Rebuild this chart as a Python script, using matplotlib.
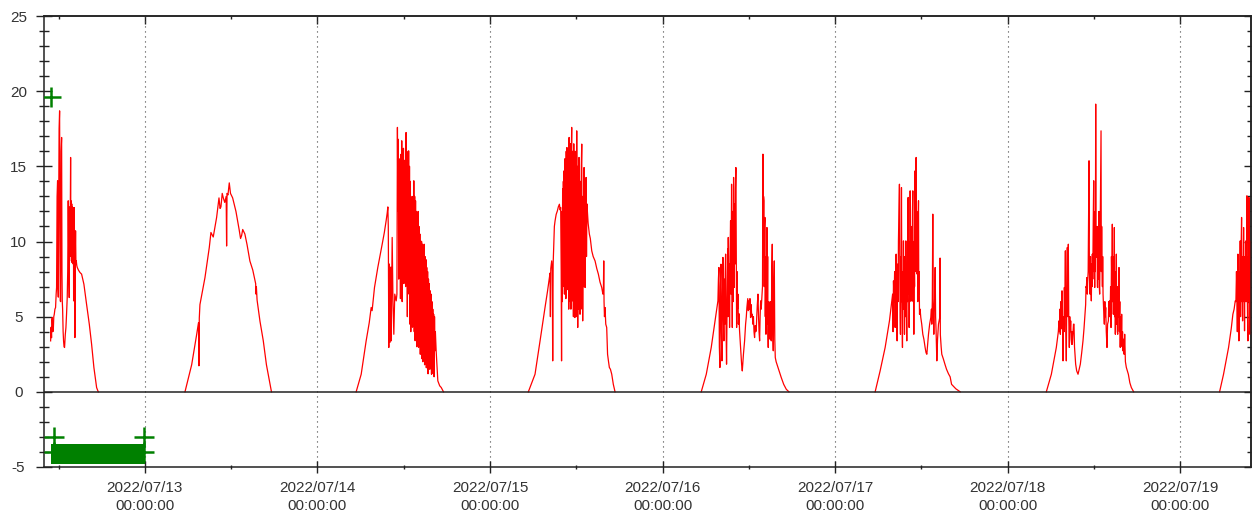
import datetime as dt
import matplotlib
matplotlib.use("Agg")
import matplotlib.pyplot as plt
import matplotlib.dates as mdates
from matplotlib.ticker import MultipleLocator

plt.rcParams['font.family'] = ['Liberation Sans', 'DejaVu Sans']
plt.rcParams['axes.unicode_minus'] = False

# ---- data: hour of day / value for each day ----
base = dt.datetime(2022, 7, 12)

d12_h = [10.88, 10.95, 11.01, 11.06, 11.11, 11.18, 11.25, 11.32, 11.39, 11.48, 11.57, 11.65,
         11.71, 11.78, 11.85, 11.90, 11.95, 12.00, 12.06, 12.13, 12.18, 12.22, 12.27, 12.34,
         12.41, 12.46, 12.50, 12.55, 12.62, 12.68, 12.75, 12.82, 12.92, 13.01, 13.10, 13.19,
         13.26, 13.33, 13.40, 13.47, 13.52, 13.57, 13.62, 13.66, 13.70, 13.74, 13.78, 13.82,
         13.86, 13.90, 13.94, 13.98, 14.02, 14.06, 14.08, 14.12, 14.17, 14.21, 14.26, 14.30,
         14.35, 14.40, 14.45, 14.52, 14.59, 14.75, 14.96, 15.19, 15.51, 15.88, 16.26, 16.58,
         16.90, 17.28, 17.51]
d12_v = [3.39, 4.30, 3.60, 4.80, 4.94, 4.00, 4.06, 5.00, 5.16, 5.50, 5.61, 6.50,
         6.94, 13.0, 14.04, 7.00, 6.30, 12.0, 17.5, 18.69, 10.0, 6.05, 6.00, 16.0,
         16.92, 8.00, 6.05, 5.50, 4.00, 3.39, 3.00, 2.95, 3.80, 4.28, 5.20, 6.27,
         8.00, 12.71, 9.00, 6.27, 12.3, 9.00, 12.0, 15.59, 9.50, 12.7, 8.70, 12.5,
         8.60, 12.3, 9.00, 12.26, 8.50, 12.0, 6.05, 11.8, 12.26, 8.80, 3.61, 9.00,
         10.71, 8.50, 8.71, 8.40, 8.27, 8.10, 7.94, 7.83, 7.16, 5.83, 4.50, 3.17,
         1.62, 0.28, 0.0]

d13_h = [5.57, 6.50, 7.19, 7.45, 7.51, 7.56, 7.65, 8.35, 8.95, 9.18, 9.50, 9.97, 10.30,
         10.45, 10.57, 10.75, 10.90, 11.10, 11.30, 11.36, 11.42, 11.55, 11.73, 11.90, 12.20,
         12.66, 13.10, 13.30, 13.45, 13.60, 13.90, 14.20, 14.60, 15.00, 15.40, 15.45, 15.50,
         15.60, 16.00, 16.46, 16.90, 17.60]
d13_v = [0.0, 1.80, 3.80, 4.60, 1.73, 4.90, 5.80, 7.60, 9.60, 10.60, 10.30, 11.60, 12.90,
         12.20, 12.30, 13.20, 12.90, 12.60, 13.00, 9.70, 13.20, 13.10, 13.90, 13.20, 12.90,
         12.00, 10.80, 10.20, 10.40, 10.80, 10.50, 9.80, 8.70, 8.10, 7.20, 6.50, 7.00,
         6.10, 4.70, 3.40, 1.80, 0.0]

d14_h = [5.38, 6.08, 6.77, 7.20, 7.47, 7.60, 7.93, 8.39, 9.00, 9.30, 9.55, 9.70, 9.79,
         9.85, 9.92, 10.00, 10.11, 10.20, 10.25, 10.39, 10.50, 10.62, 10.75, 10.95, 11.05,
         11.12, 11.18, 11.24, 11.30, 11.36, 11.42, 11.48, 11.54, 11.60, 11.66, 11.72, 11.78,
         11.84, 11.90, 11.96, 12.02, 12.08, 12.14, 12.20, 12.26, 12.32, 12.38, 12.44, 12.50,
         12.56, 12.62, 12.68, 12.74, 12.80, 12.86, 12.92, 12.98, 13.04, 13.10, 13.16, 13.22,
         13.28, 13.34, 13.40, 13.46, 13.52, 13.58, 13.64, 13.70, 13.76, 13.82, 13.88, 13.94,
         14.00, 14.06, 14.12, 14.18, 14.24, 14.30, 14.36, 14.42, 14.48, 14.54, 14.60, 14.66,
         14.72, 14.78, 14.84, 14.90, 14.96, 15.02, 15.08, 15.14, 15.20, 15.26, 15.32, 15.38,
         15.44, 15.50, 15.56, 15.62, 15.68, 15.74, 15.80, 15.86, 15.92, 15.98, 16.04, 16.10,
         16.16, 16.22, 16.28, 16.34, 16.40, 16.51, 16.74, 17.00, 17.21, 17.53]
d14_v = [0.0, 1.17, 3.39, 4.60, 5.61, 5.40, 6.94, 8.27, 9.82, 10.6, 11.38, 11.9, 12.3,
         11.0, 2.95, 8.50, 3.30, 8.30, 3.39, 10.27, 6.00, 3.83, 6.50, 6.05, 6.50,
         17.59, 12.0, 16.8, 7.50, 15.5, 10.9, 14.92, 6.20, 15.8, 8.00, 16.7, 6.00,
         14.5, 9.00, 16.2, 7.20, 15.4, 10.5, 15.37, 7.00, 17.25, 8.50, 16.0, 5.00,
         15.5, 9.00, 16.03, 6.50, 15.0, 4.50, 14.0, 4.00, 12.5, 5.50, 13.0, 4.30,
         12.0, 5.00, 14.04, 4.00, 13.0, 3.40, 12.71, 4.50, 12.0, 3.00, 11.5, 4.00,
         12.0, 2.95, 11.0, 3.50, 10.5, 2.50, 10.04, 3.00, 10.0, 2.20, 9.82, 2.00,
         9.50, 2.80, 9.82, 1.80, 9.00, 2.50, 8.80, 1.60, 8.27, 2.00, 8.00, 1.20,
         7.50, 2.06, 7.20, 1.50, 6.72, 2.00, 6.50, 1.17, 6.00, 1.50, 5.50, 1.20,
         5.16, 1.00, 5.00, 2.73, 4.00, 2.70, 0.73, 0.40, 0.29, 0.0]

d15_h = [5.33, 6.26, 6.96, 7.65, 8.00, 8.26, 8.35, 8.40, 8.45, 8.58, 8.66, 8.72, 8.78,
         8.85, 8.95, 9.05, 9.20, 9.37, 9.50, 9.65, 9.75, 9.83, 9.90, 9.95, 10.00,
         10.05, 10.10, 10.15, 10.20, 10.25, 10.30, 10.35, 10.40, 10.45, 10.50, 10.55, 10.60,
         10.65, 10.70, 10.75, 10.80, 10.85, 10.90, 10.95, 11.00, 11.05, 11.10, 11.15, 11.20,
         11.25, 11.30, 11.36, 11.40, 11.45, 11.50, 11.55, 11.60, 11.65, 11.70, 11.75, 11.80,
         11.85, 11.90, 11.95, 12.00, 12.06, 12.10, 12.15, 12.20, 12.25, 12.30, 12.38, 12.42,
         12.46, 12.52, 12.58, 12.64, 12.70, 12.76, 12.80, 12.85, 12.89, 12.95, 13.00, 13.08,
         13.12, 13.16, 13.22, 13.28, 13.36, 13.42, 13.48, 13.54, 13.65, 13.82, 13.95, 14.15,
         14.35, 14.61, 14.85, 15.07, 15.30, 15.54, 15.70, 15.77, 15.82, 15.86, 15.92, 16.00,
         16.10, 16.23, 16.35, 16.47, 16.60, 16.75, 16.93, 17.15, 17.39]
d15_v = [0.0, 1.17, 3.39, 5.61, 6.70, 7.60, 7.90, 5.00, 8.20, 8.71, 8.00, 2.06, 8.50,
         9.50, 11.0, 11.38, 11.8, 12.04, 12.3, 12.48, 12.1, 12.26, 8.00, 2.06, 12.0,
         6.00, 13.5, 7.00, 14.0, 8.00, 14.7, 6.50, 15.5, 7.80, 14.5, 6.20, 16.0,
         8.00, 16.25, 6.80, 15.2, 8.94, 16.0, 5.50, 16.92, 7.50, 15.0, 6.00, 16.5,
         5.50, 15.5, 17.59, 7.00, 16.0, 6.05, 15.0, 5.00, 16.5, 6.50, 15.0, 4.94,
         16.0, 6.00, 14.5, 5.00, 17.36, 6.50, 15.0, 4.28, 14.0, 5.50, 15.59, 6.00,
         13.5, 5.16, 14.0, 6.50, 15.0, 16.48, 5.50, 13.0, 4.72, 12.0, 7.00, 14.92,
         8.00, 12.0, 6.94, 12.5, 14.26, 9.00, 12.5, 12.04, 11.2, 10.49, 10.2, 9.38,
         9.00, 8.71, 8.20, 7.83, 7.30, 6.94, 6.50, 6.72, 8.71, 6.00, 5.00, 5.61,
         4.50, 4.28, 2.50, 2.06, 1.62, 1.50, 1.17, 0.50, 0.0]

d16_h = [5.38, 6.08, 6.77, 7.37, 7.70, 7.77, 7.84, 7.90, 7.98, 8.05, 8.12, 8.19, 8.26,
         8.33, 8.40, 8.47, 8.53, 8.60, 8.66, 8.72, 8.77, 8.84, 8.90, 8.98, 9.05,
         9.10, 9.14, 9.20, 9.26, 9.32, 9.38, 9.46, 9.52, 9.56, 9.60, 9.65, 9.70,
         9.76, 9.82, 9.88, 9.93, 9.97, 10.02, 10.08, 10.14, 10.20, 10.26, 10.30, 10.36,
         10.42, 10.48, 10.55, 10.62, 10.71, 10.85, 11.00, 11.09, 11.25, 11.41, 11.55, 11.65,
         11.73, 11.85, 11.93, 12.01, 12.10, 12.16, 12.24, 12.32, 12.40, 12.48, 12.56, 12.64,
         12.72, 12.80, 12.88, 12.95, 13.03, 13.10, 13.18, 13.27, 13.35, 13.42, 13.50, 13.57,
         13.64, 13.72, 13.82, 13.90, 13.96, 14.00, 14.05, 14.10, 14.14, 14.19, 14.24, 14.29,
         14.34, 14.38, 14.44, 14.48, 14.52, 14.57, 14.62, 14.66, 14.70, 14.76, 14.82, 14.89,
         14.95, 15.00, 15.06, 15.12, 15.19, 15.26, 15.33, 15.40, 15.47, 15.54, 15.61, 15.68,
         15.80, 15.91, 16.20, 16.51, 16.85, 17.21, 17.58]
d16_v = [0.0, 1.17, 2.95, 4.94, 6.05, 7.50, 8.27, 3.00, 1.62, 7.00, 8.49, 4.00, 2.06,
         6.50, 8.94, 5.00, 3.39, 7.50, 4.50, 8.00, 9.16, 4.00, 1.84, 6.00, 9.50,
         5.00, 10.27, 6.00, 8.50, 4.28, 9.00, 11.38, 6.50, 10.0, 13.81, 8.00, 4.28,
         12.0, 6.00, 14.26, 9.00, 6.94, 12.5, 8.50, 13.5, 14.92, 9.00, 4.28, 8.00,
         5.50, 6.50, 4.50, 5.20, 4.06, 3.00, 1.80, 1.39, 2.50, 3.39, 4.50, 5.00,
         5.61, 6.20, 5.40, 6.05, 5.50, 6.20, 4.94, 5.80, 5.00, 5.16, 4.50, 5.00,
         4.00, 3.61, 4.40, 4.00, 4.06, 5.00, 5.80, 6.50, 5.00, 4.00, 3.39, 5.00,
         6.05, 5.50, 6.27, 7.00, 15.81, 9.00, 13.0, 12.71, 7.00, 11.0, 11.60, 5.00,
         9.00, 3.83, 8.00, 4.50, 10.93, 5.00, 9.00, 4.00, 2.95, 6.00, 5.00, 4.72,
         3.50, 6.00, 4.00, 3.39, 8.00, 9.82, 4.00, 2.73, 7.00, 8.71, 3.50, 2.28,
         2.00, 1.84, 1.40, 0.95, 0.50, 0.17, 0.0]

d17_h = [5.57, 6.26, 6.96, 7.56, 7.89, 8.00, 8.06, 8.12, 8.20, 8.28, 8.35, 8.42, 8.49,
         8.56, 8.63, 8.70, 8.76, 8.81, 8.88, 8.95, 9.00, 9.05, 9.09, 9.14, 9.18,
         9.23, 9.28, 9.32, 9.37, 9.42, 9.46, 9.51, 9.56, 9.60, 9.65, 9.70, 9.76,
         9.84, 9.90, 9.97, 10.02, 10.06, 10.10, 10.16, 10.21, 10.26, 10.30, 10.35, 10.40,
         10.44, 10.48, 10.53, 10.58, 10.62, 10.67, 10.72, 10.76, 10.81, 10.86, 10.90, 10.95,
         11.00, 11.05, 11.09, 11.13, 11.18, 11.22, 11.27, 11.31, 11.36, 11.41, 11.46, 11.50,
         11.55, 11.60, 11.64, 11.69, 11.74, 11.82, 11.92, 12.05, 12.20, 12.35, 12.52, 12.65,
         12.76, 12.88, 12.99, 13.15, 13.31, 13.40, 13.45, 13.52, 13.59, 13.64, 13.68, 13.73,
         13.80, 13.86, 13.92, 13.98, 14.05, 14.10, 14.15, 14.25, 14.38, 14.50, 14.55, 14.60,
         14.64, 14.75, 14.84, 15.05, 15.30, 15.50, 15.77, 16.00, 16.20, 16.80, 17.40]
d17_v = [0.0, 1.39, 2.95, 4.72, 6.05, 6.50, 4.00, 7.38, 6.00, 8.00, 4.28, 7.50, 9.16,
         5.00, 3.39, 8.50, 6.00, 10.04, 12.0, 13.81, 8.00, 5.00, 3.83, 9.00, 6.00,
         13.59, 7.00, 5.00, 2.95, 8.00, 5.50, 10.04, 6.00, 9.00, 3.83, 7.50, 5.00,
         10.04, 6.00, 3.39, 8.00, 6.00, 11.5, 12.93, 6.50, 10.0, 4.28, 9.00, 6.00,
         13.37, 7.00, 11.0, 6.50, 6.05, 11.0, 7.00, 12.0, 13.37, 6.00, 10.0, 3.83,
         9.00, 7.00, 13.0, 14.70, 8.00, 13.0, 15.59, 9.00, 12.0, 7.83, 10.0, 6.00,
         11.0, 12.71, 6.50, 8.00, 5.16, 5.50, 4.94, 4.50, 3.83, 3.50, 2.95, 2.60,
         2.50, 3.20, 3.83, 4.50, 4.94, 5.50, 4.50, 6.00, 11.82, 6.00, 5.00, 3.83,
         5.50, 6.50, 8.27, 5.00, 4.00, 3.00, 2.06, 3.50, 4.50, 4.80, 4.94, 8.90,
         3.80, 3.00, 2.50, 2.20, 1.80, 1.50, 1.20, 1.00, 0.50, 0.20, 0.0]

d18_h = [5.38, 6.08, 6.77, 7.05, 7.14, 7.20, 7.26, 7.33, 7.40, 7.47, 7.56, 7.63, 7.70,
         7.78, 7.84, 7.89, 7.95, 8.03, 8.08, 8.12, 8.16, 8.22, 8.30, 8.36, 8.40,
         8.44, 8.50, 8.54, 8.58, 8.64, 8.70, 8.77, 8.84, 8.90, 8.95, 9.00, 9.10,
         9.16, 9.23, 9.30, 9.40, 9.46, 9.60, 9.79, 9.95, 10.11, 10.30, 10.48, 10.62,
         10.76, 10.85, 10.90, 10.95, 11.02, 11.08, 11.13, 11.20, 11.26, 11.32, 11.37, 11.41,
         11.46, 11.52, 11.58, 11.64, 11.70, 11.74, 11.78, 11.84, 11.90, 11.97, 12.02, 12.06,
         12.11, 12.16, 12.20, 12.25, 12.30, 12.34, 12.38, 12.44, 12.48, 12.52, 12.57, 12.62,
         12.66, 12.70, 12.75, 12.80, 12.86, 12.92, 12.99, 13.03, 13.08, 13.13, 13.18, 13.22,
         13.27, 13.35, 13.45, 13.52, 13.58, 13.64, 13.72, 13.82, 13.90, 14.01, 14.06, 14.12,
         14.19, 14.25, 14.32, 14.38, 14.44, 14.50, 14.56, 14.60, 14.65, 14.70, 14.75, 14.80,
         14.84, 14.88, 14.94, 14.98, 15.03, 15.08, 15.12, 15.17, 15.22, 15.26, 15.31, 15.36,
         15.42, 15.49, 15.54, 15.60, 15.64, 15.68, 15.74, 15.80, 15.86, 15.92, 15.98, 16.05,
         16.12, 16.20, 16.28, 16.38, 16.51, 16.65, 16.79, 17.00, 17.21, 17.53]
d18_v = [0.0, 1.17, 2.95, 4.00, 4.72, 4.00, 5.50, 3.83, 6.00, 4.20, 6.72, 4.50, 2.06,
         5.00, 4.00, 6.94, 5.00, 9.38, 4.50, 3.50, 2.06, 6.00, 9.60, 5.00, 7.00,
         9.82, 5.00, 4.00, 2.95, 5.00, 4.00, 4.72, 3.50, 3.17, 4.00, 3.17, 4.00,
         4.50, 4.50, 3.00, 2.30, 1.84, 1.40, 1.17, 1.50, 1.84, 2.60, 3.39, 4.20,
         5.16, 5.80, 7.00, 6.94, 7.60, 6.50, 7.38, 8.00, 12.0, 15.37, 8.00, 7.00,
         6.50, 9.00, 7.00, 6.05, 8.50, 7.00, 9.16, 7.50, 11.0, 14.04, 8.00, 9.00,
         6.94, 12.0, 8.00, 19.14, 9.00, 10.0, 8.94, 11.0, 7.00, 6.94, 10.5, 7.50,
         8.94, 12.0, 7.00, 6.50, 10.0, 13.0, 17.36, 8.00, 11.0, 8.49, 7.00, 9.00,
         6.50, 5.50, 4.50, 6.00, 5.00, 5.61, 4.00, 2.95, 4.50, 4.72, 6.00, 5.00,
         6.05, 5.00, 7.00, 4.28, 9.00, 7.00, 11.15, 6.00, 9.00, 5.16, 8.00, 6.00,
         10.93, 5.00, 8.00, 3.83, 7.00, 5.00, 9.16, 4.50, 7.00, 4.00, 3.83, 6.50,
         5.00, 8.27, 4.00, 6.00, 3.00, 2.95, 5.00, 3.50, 5.16, 3.00, 4.00, 2.72,
         3.50, 2.50, 3.83, 2.00, 1.62, 1.40, 1.17, 0.60, 0.28, 0.0]

d19_h = [5.48, 6.03, 6.73, 7.10, 7.33, 7.50, 7.66, 7.75, 7.83, 7.89, 7.95, 8.03, 8.08,
         8.12, 8.17, 8.22, 8.28, 8.35, 8.40, 8.46, 8.54, 8.59, 8.63, 8.68, 8.74,
         8.78, 8.82, 8.87, 8.91, 8.95, 9.00, 9.05, 9.10, 9.14, 9.20, 9.24, 9.28,
         9.32, 9.37, 9.42, 9.47, 9.51, 9.56, 9.60, 9.65, 9.70, 9.75, 9.80, 9.84,
         9.90, 9.97]
d19_v = [0.0, 1.17, 2.95, 4.20, 5.16, 5.50, 6.05, 6.00, 8.00, 6.50, 4.00, 9.16, 5.00,
         7.00, 3.39, 8.00, 6.00, 10.04, 5.00, 9.00, 11.60, 6.00, 8.00, 4.72, 9.00,
         7.00, 10.93, 6.00, 8.00, 4.06, 9.00, 6.00, 8.00, 10.04, 6.00, 9.00, 13.04,
         7.00, 5.00, 3.39, 9.00, 7.00, 12.93, 6.00, 9.00, 3.83, 8.00, 6.00, 10.04,
         7.00, 5.16]

days = [(0, d12_h, d12_v), (1, d13_h, d13_v), (2, d14_h, d14_v), (3, d15_h, d15_v),
        (4, d16_h, d16_v), (5, d17_h, d17_v), (6, d18_h, d18_v), (7, d19_h, d19_v)]

# green markers (hours since 2022/07/12 00:00, value)
top_mark_h, top_mark_v = [10.95], [19.6]
bar_start_h, bar_end_h = 11.0, 24.0
bar_low, bar_high = -4.8, -3.5
end_mark_h = [11.3, 11.3, 23.85, 23.85]
end_mark_v = [-3.0, -4.0, -3.0, -4.0]

INK = '#222222'


def hours_to_time(day, hours):
    return [base + dt.timedelta(days=day, hours=h) for h in hours]


fig = plt.figure(figsize=(12.55, 5.21), dpi=100)
ax = fig.add_axes([44 / 1255, 1 - 467 / 521, (1251 - 44) / 1255, (467 - 16) / 521])

for day, hrs, vals in days:
    ax.plot(hours_to_time(day, hrs), vals, color='red', lw=0.9, zorder=2)

ax.fill_between(hours_to_time(0, [bar_start_h, bar_end_h]), bar_low, bar_high,
                color='green', lw=0, zorder=4)
ax.plot(hours_to_time(0, end_mark_h), end_mark_v, ls='none', marker='+', ms=14,
        mew=1.8, color='green', zorder=3)
ax.plot(hours_to_time(0, top_mark_h), top_mark_v, ls='none', marker='+', ms=14,
        mew=1.8, color='green', zorder=5)

ax.axhline(0, color=INK, lw=1.1, zorder=6)

ax.set_xlim(base + dt.timedelta(hours=9.96), base + dt.timedelta(days=7, hours=9.85))
ax.set_ylim(-5, 25)
ax.xaxis.set_major_locator(mdates.DayLocator())
ax.xaxis.set_minor_locator(mdates.HourLocator(byhour=[12]))
ax.xaxis.set_major_formatter(mdates.DateFormatter('%Y/%m/%d\n%H:%M:%S'))
ax.yaxis.set_major_locator(MultipleLocator(5))
ax.yaxis.set_minor_locator(MultipleLocator(1))

ax.grid(axis='x', which='major', color='#444444', linestyle=(0, (1, 3.5)), lw=0.8)

for s in ax.spines.values():
    s.set_color(INK)
    s.set_linewidth(1.1)

ax.tick_params(axis='y', which='major', direction='inout', length=11, width=1,
               color=INK, labelsize=11, labelcolor='#333333', pad=13)
ax.tick_params(axis='y', which='minor', direction='inout', length=6.5, width=1, color=INK)
ax.tick_params(axis='x', which='major', direction='inout', length=8.5, width=1,
               color=INK, labelsize=11, labelcolor='#333333', pad=6)
ax.tick_params(axis='x', which='minor', direction='inout', length=3, width=1, color=INK)

# mirrored inward ticks on top and right
top = ax.secondary_xaxis('top')
top.xaxis.set_major_locator(mdates.DayLocator())
top.xaxis.set_minor_locator(mdates.HourLocator(byhour=[12]))
top.tick_params(which='both', direction='in', labeltop=False, color=INK, width=1)
top.tick_params(which='major', length=6)
top.tick_params(which='minor', length=2)
top.spines['top'].set_color(INK)
top.spines['top'].set_linewidth(1.1)

right = ax.secondary_yaxis('right')
right.yaxis.set_major_locator(MultipleLocator(5))
right.yaxis.set_minor_locator(MultipleLocator(1))
right.tick_params(which='both', direction='in', labelright=False, color=INK, width=1)
right.tick_params(which='major', length=5)
right.tick_params(which='minor', length=3)
right.spines['right'].set_color(INK)
right.spines['right'].set_linewidth(1.1)

# y labels are centred in the left margin, x labels get a bit more line spacing
fig.canvas.draw()
for lbl in ax.get_yticklabels():
    lbl.set_horizontalalignment('center')
for lbl in ax.get_xticklabels():
    lbl.set_linespacing(1.35)

fig.savefig('out.png', dpi=100)
